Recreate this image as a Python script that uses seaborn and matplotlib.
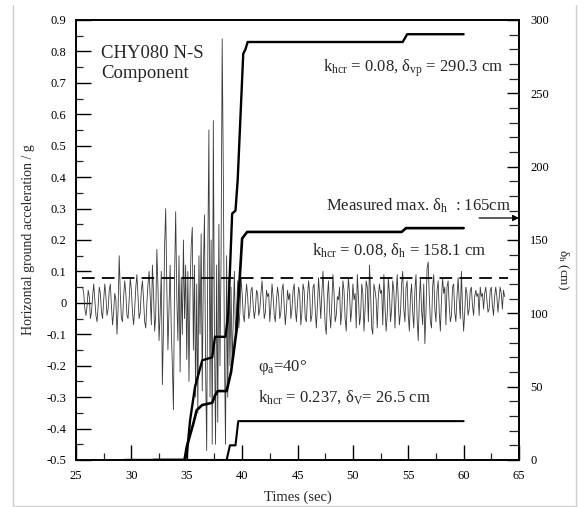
import numpy as np
import pandas as pd
import seaborn as sns
import matplotlib
matplotlib.use("Agg")
import matplotlib.pyplot as plt
from matplotlib.lines import Line2D
from matplotlib.ticker import MultipleLocator, FuncFormatter

# ---- ground acceleration record (g), sampled every 0.1 s from 25.6 s ----
acc_t0 = 25.6
acc_dt = 0.1
acc_rows = [
    [0.05, 0.03, -0.02, -0.04],
    [-0.01, 0.04, 0.02, -0.05, -0.03, 0.02, 0.06, 0.01, -0.04, -0.06],   # 26
    [-0.01, 0.05, 0.03, -0.03, -0.05, 0.01, 0.06, 0.02, -0.04, -0.02],   # 27
    [0.04, 0.06, -0.01, -0.07, -0.03, 0.03, 0.01, -0.10, -0.02, 0.15],   # 28
    [0.03, -0.05, -0.06, 0.02, 0.07, 0.03, -0.04, -0.05, 0.01, 0.08],    # 29
    [0.04, -0.03, -0.07, -0.02, 0.05, 0.09, 0.02, -0.05, -0.03, 0.04],   # 30
    [0.07, 0.01, -0.06, -0.08, 0.00, 0.06, 0.10, 0.02, -0.07, 0.12],     # 31
    [0.03, -0.09, -0.04, 0.17, 0.05, -0.12, -0.03, 0.10, -0.26, -0.08],  # 32
    [0.18, 0.30, 0.05, -0.15, -0.02, 0.12, -0.08, -0.20, -0.34, 0.08],   # 33
    [0.29, 0.02, -0.12, 0.15, -0.22, 0.08, -0.10, 0.20, -0.05, 0.12],    # 34
    [-0.18, 0.10, -0.25, 0.05, 0.18, 0.24, -0.15, 0.12, -0.30, 0.06],    # 35
    [-0.35, 0.15, -0.10, 0.22, -0.28, 0.10, 0.28, -0.20, -0.47, 0.15],   # 36
    [0.55, -0.30, 0.20, -0.45, 0.58, -0.10, -0.45, 0.12, -0.38, 0.25],   # 37
    [-0.20, 0.15, 0.84, 0.42, -0.15, -0.45, 0.15, -0.30, 0.08, -0.20],   # 38
    [0.05, -0.20, -0.05, 0.10, -0.12, -0.02, 0.07, -0.08, -0.03, 0.08],  # 39
    [0.03, -0.04, -0.06, 0.01, 0.06, 0.02, -0.05, -0.03, 0.04, 0.05],    # 40
    [-0.01, -0.05, -0.02, 0.04, 0.03, -0.04, -0.02, 0.03, 0.07, 0.01],   # 41
    [-0.05, -0.03, 0.04, 0.02, 0.03, -0.06, -0.01, 0.06, 0.02, -0.04],   # 42
    [-0.06, 0.01, 0.05, 0.02, -0.05, -0.03, 0.04, 0.06, -0.01, -0.07],   # 43
    [-0.02, 0.04, 0.01, 0.03, -0.05, -0.02, 0.04, 0.06, -0.02, -0.06],   # 44
    [0.00, 0.05, 0.03, -0.07, -0.03, 0.06, 0.04, -0.05, -0.06, 0.02],    # 45
    [0.07, 0.03, -0.06, -0.04, 0.05, 0.06, -0.02, -0.08, -0.01, 0.08],   # 46
    [0.02, -0.05, 0.03, 0.10, 0.01, -0.07, -0.10, 0.02, 0.07, -0.03],    # 47
    [-0.08, 0.00, 0.09, 0.03, -0.06, -0.04, 0.02, 0.01, 0.05, -0.07],    # 48
    [-0.03, 0.07, 0.04, -0.05, -0.09, 0.01, 0.08, 0.03, -0.06, -0.02],   # 49
    [0.06, 0.01, 0.03, -0.08, 0.09, 0.02, -0.07, -0.04, 0.06, 0.03],     # 50
    [-0.09, -0.02, 0.07, 0.05, -0.06, 0.12, 0.03, -0.08, -0.10, 0.06],   # 51
    [0.04, 0.01, -0.08, 0.02, 0.06, 0.03, 0.04, -0.07, 0.09, -0.01],     # 52
    [-0.09, -0.04, 0.08, 0.03, -0.06, -0.02, 0.07, 0.04, -0.08, 0.02],   # 53
    [0.09, 0.01, -0.07, -0.03, 0.06, 0.10, -0.02, -0.06, 0.05, 0.07],    # 54
    [-0.04, -0.09, 0.02, 0.06, -0.03, -0.08, 0.04, 0.09, -0.05, -0.12],  # 55
    [0.01, 0.08, -0.02, -0.07, 0.06, -0.13, -0.03, 0.11, 0.13, 0.02],    # 56
    [-0.06, -0.08, 0.05, 0.09, -0.02, -0.06, 0.04, 0.07, -0.03, -0.09],  # 57
    [0.01, 0.08, 0.03, 0.05, -0.07, 0.05, 0.07, -0.01, -0.06, -0.04],    # 58
    [0.05, 0.06, -0.03, -0.06, 0.02, 0.08, 0.01, -0.05, 0.10, -0.02],    # 59
    [-0.09, -0.03, 0.05, 0.03, -0.04, -0.02, 0.04, 0.05, -0.01, -0.04],  # 60
    [0.02, 0.04, 0.02, 0.03, -0.04, 0.05, 0.02, 0.03, -0.02, 0.03],      # 61
    [0.05, 0.01, -0.03, -0.02, 0.04, 0.05, -0.01, -0.04, 0.02, 0.05],    # 62
    [0.02, -0.03, 0.01, 0.05, 0.03, -0.02, 0.04, 0.02],                  # 63
]
acc_values = [v for row in acc_rows for v in row]
acc_time = acc_t0 + acc_dt * np.arange(len(acc_values))

# critical seismic coefficient line
k_crit = 0.08
k_line_t = [25.5, 64.0]

# ---- sliding displacement histories (cm) ----
vp_t = [29.4, 34.8, 35.0, 35.3, 35.75, 36.4, 37.3, 37.55, 38.5, 38.75, 39.1, 39.4,
        39.6, 40.1, 40.3, 40.5, 54.5, 54.9, 60.0]
vp_d = [0, 0, 3, 27, 50, 68, 70, 84, 84, 100, 168, 170, 191, 277, 280, 285, 285,
        290.3, 290.3]

h_t = [32.0, 34.8, 35.0, 35.6, 35.9, 36.4, 37.3, 37.55, 37.8, 38.6, 39.0, 39.5,
       40.0, 40.45, 54.4, 54.8, 60.0]
h_d = [0, 0, 9, 25, 34, 37.5, 39, 44, 47, 47, 60, 88.6, 151, 155.5, 155.5, 158.1,
       158.1]

v_t = [34.5, 38.6, 38.9, 39.4, 39.65, 60.0]
v_d = [0, 0, 10, 10, 26.5, 26.5]

measured_max = 165

# ---- styling ----
sns.set_theme(style="ticks")
plt.rcParams["font.family"] = ["Liberation Serif", "DejaVu Serif"]
plt.rcParams["mathtext.fontset"] = "custom"
plt.rcParams["mathtext.rm"] = "Liberation Serif"
plt.rcParams["mathtext.it"] = "Liberation Serif:italic"
plt.rcParams["axes.unicode_minus"] = False

W, H = 588, 507
fig = plt.figure(figsize=(W / 100, H / 100), dpi=100)
fig.patch.set_facecolor("white")
ax = fig.add_axes([76 / W, 1 - 460 / H, 443 / W, 440 / H])
ax.set_facecolor("white")
ax2 = ax.twinx()

# acceleration trace
sns.lineplot(x=acc_time, y=acc_values, ax=ax, color="#3a3a3a", linewidth=0.6,
             estimator=None, sort=False)
sns.lineplot(x=k_line_t, y=[k_crit, k_crit], ax=ax, color="black", linewidth=1.3,
             estimator=None)
ax.lines[-1].set_dashes([7, 4])

# displacement curves on the right axis
sns.lineplot(x=v_t, y=v_d, ax=ax2, color="black", linewidth=1.5, estimator=None, sort=False)
sns.lineplot(x=h_t, y=h_d, ax=ax2, color="black", linewidth=1.9, estimator=None, sort=False)
sns.lineplot(x=vp_t, y=vp_d, ax=ax2, color="black", linewidth=1.7, estimator=None, sort=False)

ax.set_xlim(25, 65)
ax.set_ylim(-0.5, 0.9)
ax2.set_ylim(0, 300)

# ticks
ax.xaxis.set_major_locator(MultipleLocator(5))
ax.xaxis.set_minor_locator(MultipleLocator(2.5))
ax.yaxis.set_major_locator(MultipleLocator(0.1))
ax.yaxis.set_minor_locator(MultipleLocator(0.05))
ax2.yaxis.set_major_locator(MultipleLocator(50))
ax2.yaxis.set_minor_locator(MultipleLocator(10))


def fmt_left(v, _):
    if abs(v) < 1e-9:
        return "0"
    return f"{v:.1f}"


ax.yaxis.set_major_formatter(FuncFormatter(fmt_left))
ax.xaxis.set_major_formatter(FuncFormatter(lambda v, _: f"{v:.0f}"))
ax2.yaxis.set_major_formatter(FuncFormatter(lambda v, _: f"{v:.0f}"))

ax.tick_params(which="major", direction="in", length=11, width=1.0, labelsize=9,
               pad=7, colors="black", right=False, top=False)
ax.tick_params(which="minor", direction="in", length=5, width=0.9, right=False, top=False)
ax2.tick_params(which="major", direction="in", length=9, width=1.0, labelsize=9,
                pad=8, colors="black")
ax2.tick_params(which="minor", direction="in", length=7, width=0.9)

for a in (ax, ax2):
    for s in a.spines.values():
        s.set_linewidth(1.2)
        s.set_color("black")

ax.set_xlabel("Times (sec)", fontsize=10.5, labelpad=6)
ax.set_ylabel("Horizontal ground acceleration / g", fontsize=10, labelpad=8)
ax2.set_ylabel("")
fig.text(563 / W, 1 - 270 / H, "δ$_\\mathrm{h}$ (cm)", rotation=-90, fontsize=9.5,
         ha="center", va="center")

# annotations
ax.text(27.26, 0.795, "CHY080 N-S", fontsize=13.5, ha="left", va="center")
ax.text(27.26, 0.731, "Component", fontsize=13.5, ha="left", va="center")
ax.text(47.3, 0.747, "k$_\\mathrm{hcr}$ = 0.08, δ$_\\mathrm{vp}$ = 290.3 cm",
        fontsize=12, ha="left", va="center")
ax.text(47.57, 0.308, "Measured max. δ$_\\mathrm{h}$  : 165cm",
        fontsize=12, ha="left", va="center")
ax.text(46.3, 0.168, "k$_\\mathrm{hcr}$ = 0.08, δ$_\\mathrm{h}$ = 158.1 cm",
        fontsize=12, ha="left", va="center")
ax.text(41.43, -0.207, "φ$_\\mathrm{a}$=40°", fontsize=12, ha="left", va="center")
ax.text(41.43, -0.30, "k$_\\mathrm{hcr}$ = 0.237, δ$_\\mathrm{V}$= 26.5 cm",
        fontsize=12, ha="left", va="center")

ax2.annotate("", xy=(65, measured_max), xytext=(61.4, measured_max),
             arrowprops=dict(arrowstyle="-|>", color="black", lw=0.9,
                             mutation_scale=9, shrinkA=0, shrinkB=0),
             annotation_clip=False)

# light page frame
for xs, ys in [([13, 13], [5, 506]), ([576, 576], [5, 506]), ([13, 576], [506, 506])]:
    fig.add_artist(Line2D([x / W for x in xs], [1 - y / H for y in ys],
                          color="#cfcfcf", linewidth=1.0))

fig.savefig("out.png", dpi=100, facecolor="white")
